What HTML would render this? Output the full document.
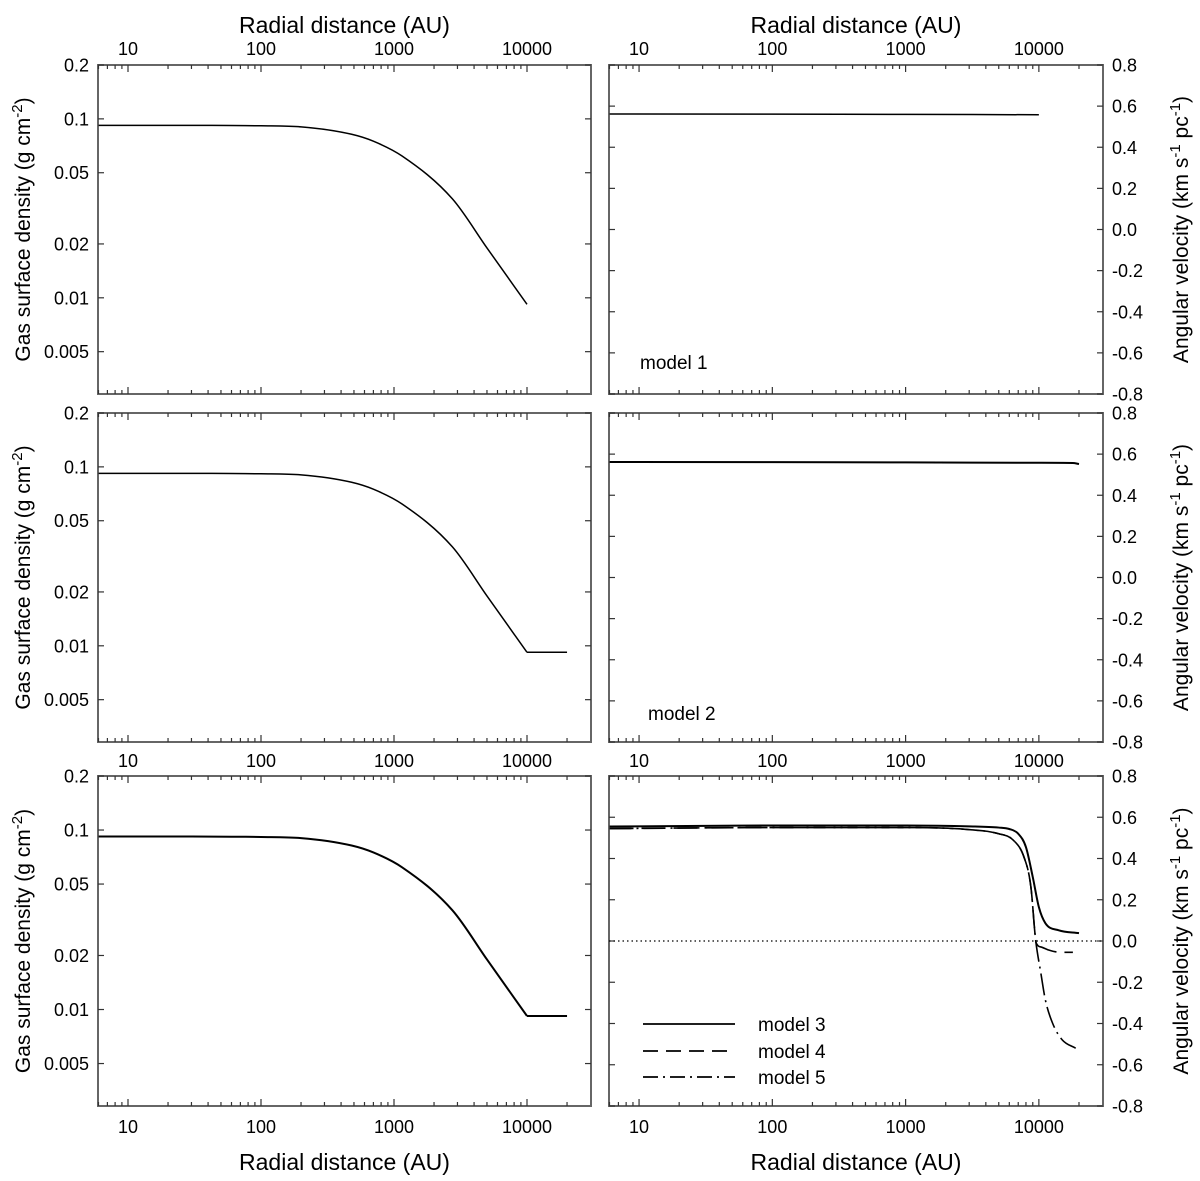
<!DOCTYPE html>
<html><head><meta charset="utf-8"><style>
html,body{margin:0;padding:0;background:#fff}
svg text{font-family:"Liberation Sans",Arial,sans-serif;fill:#000}
</style></head><body>
<svg id="fig" width="1200" height="1176" viewBox="0 0 1200 1176" xmlns="http://www.w3.org/2000/svg"></svg>
<script>
// ---- data ----
const densR = [6, 30, 60, 100, 200, 480, 700, 1150, 2750, 5000, 10000];
const densV = [0.092, 0.092, 0.0918, 0.0915, 0.0902, 0.082, 0.075, 0.062, 0.0357, 0.019, 0.0092];
const densTailR = [10000, 20000];
const densTailV = [0.0092, 0.0092];
const m1R = [6, 100, 1000, 10000];
const m1V = [0.562, 0.561, 0.56, 0.558];
const m2R = [6, 100, 1000, 10000, 18000, 20000];
const m2V = [0.562, 0.561, 0.56, 0.558, 0.557, 0.552];
const m3R = [6, 100, 1000, 3000, 5000, 6000, 7000, 8000, 9000, 10000, 11200, 14100, 20000];
const m3V = [0.555, 0.56, 0.56, 0.556, 0.55, 0.543, 0.52, 0.455, 0.31, 0.164, 0.086, 0.052, 0.038];
const m4R = [6, 100, 1000, 3000, 5000, 6400, 7730, 8720, 9340, 9500, 10500, 12000, 14000, 18000];
const m4V = [0.545, 0.55, 0.55, 0.54, 0.52, 0.49, 0.407, 0.26, 0.038, -0.006, -0.03, -0.045, -0.054, -0.055];
const m5R = [6, 100, 1000, 3000, 5000, 6400, 7730, 8720, 9340, 9500, 10350, 11200, 12700, 15000, 18900];
const m5V = [0.545, 0.55, 0.55, 0.54, 0.52, 0.49, 0.407, 0.26, 0.038, -0.006, -0.156, -0.287, -0.4, -0.48, -0.52];
const xTicks = [10, 100, 1000, 10000];
const xTickLabels = ["10", "100", "1000", "10000"];
const dTicks = [0.2, 0.1, 0.05, 0.02, 0.01, 0.005];
const dTickLabels = ["0.2", "0.1", "0.05", "0.02", "0.01", "0.005"];
const vTicks = [0.8, 0.6, 0.4, 0.2, 0, -0.2, -0.4, -0.6, -0.8];
const vTickLabels = ["0.8", "0.6", "0.4", "0.2", "0.0", "-0.2", "-0.4", "-0.6", "-0.8"];

const NS = "http://www.w3.org/2000/svg";
const svg = document.getElementById("fig");
function mk(tag, attrs, parent) {
  const e = document.createElementNS(NS, tag);
  for (const k in attrs) e.setAttribute(k, attrs[k]);
  (parent || svg).appendChild(e);
  return e;
}
const AX = "#666";
const cols = [{x0: 98, x1: 591}, {x0: 609, x1: 1103}];
const rows = [{y0: 65, y1: 394}, {y0: 413, y1: 742}, {y0: 776, y1: 1106}];
const LX0 = Math.log10(10) - 30 / 133;
const LX1 = LX0 + 493 / 133;
function xs(c, r) { return c.x0 + (Math.log10(r) - LX0) / (LX1 - LX0) * (c.x1 - c.x0); }
const LD0 = Math.log10(0.0029), LD1 = Math.log10(0.2);
function yd(p, v) { return p.y1 - (Math.log10(v) - LD0) / (LD1 - LD0) * (p.y1 - p.y0); }
function yv(p, v) { return p.y1 - (v + 0.8) / 1.6 * (p.y1 - p.y0); }

function monoPath(pts) {
  const n = pts.length;
  const xsA = pts.map(p => p[0]), ysA = pts.map(p => p[1]);
  const d = [], m = new Array(n);
  for (let i = 0; i < n - 1; i++) d.push((ysA[i + 1] - ysA[i]) / (xsA[i + 1] - xsA[i]));
  m[0] = d[0]; m[n - 1] = d[n - 2];
  for (let i = 1; i < n - 1; i++) m[i] = (d[i - 1] * d[i] <= 0) ? 0 : (d[i - 1] + d[i]) / 2;
  for (let i = 0; i < n - 1; i++) {
    if (d[i] === 0) { m[i] = 0; m[i + 1] = 0; continue; }
    const a = m[i] / d[i], b = m[i + 1] / d[i], s = a * a + b * b;
    if (s > 9) { const t = 3 / Math.sqrt(s); m[i] = t * a * d[i]; m[i + 1] = t * b * d[i]; }
  }
  let out = "M" + xsA[0].toFixed(2) + "," + ysA[0].toFixed(2);
  for (let i = 0; i < n - 1; i++) {
    const h = xsA[i + 1] - xsA[i];
    out += " C" + (xsA[i] + h / 3).toFixed(2) + "," + (ysA[i] + m[i] * h / 3).toFixed(2) + " " +
      (xsA[i + 1] - h / 3).toFixed(2) + "," + (ysA[i + 1] - m[i + 1] * h / 3).toFixed(2) + " " +
      xsA[i + 1].toFixed(2) + "," + ysA[i + 1].toFixed(2);
  }
  return out;
}
function text(str, x, y, size, anchor, parent) {
  const t = mk("text", {x: x, y: y, "font-size": size, "text-anchor": anchor || "middle"}, parent);
  t.textContent = str;
  return t;
}

function panel(ci, ri, kind) {
  const c = cols[ci], p = rows[ri];
  const g = mk("g", {});
  
  
  const fr = mk("rect", {x: c.x0, y: p.y0, width: c.x1 - c.x0, height: p.y1 - p.y0, fill: "none", stroke: AX, "stroke-width": 2}, g);
  
  
  for (let dec = 0; dec <= 4; dec++) {
    for (let m = 1; m <= 9; m++) {
      const r = m * Math.pow(10, dec);
      const lr = Math.log10(r);
      if (lr < LX0 || lr > LX1 - 0.005) continue;
      const x = xs(c, r), len = m === 1 ? 7 : 4;
      mk("line", {x1: x, y1: p.y1, x2: x, y2: p.y1 - len, stroke: "#333", "stroke-width": 1.2}, g);
      mk("line", {x1: x, y1: p.y0, x2: x, y2: p.y0 + len, stroke: "#333", "stroke-width": 1.2}, g);
    }
  }
  const ticks = kind === "dens" ? dTicks : vTicks;
  const labels = kind === "dens" ? dTickLabels : vTickLabels;
  ticks.forEach((v, i) => {
    const y = kind === "dens" ? yd(p, v) : yv(p, v);
    mk("line", {x1: c.x0, y1: y, x2: c.x0 + 6, y2: y, stroke: "#333", "stroke-width": 1.2}, g);
    mk("line", {x1: c.x1, y1: y, x2: c.x1 - 6, y2: y, stroke: "#333", "stroke-width": 1.2}, g);
    const t = kind === "dens" ? text(labels[i], c.x0 - 9, y + 6.5, 18, "end", g) : text(labels[i], c.x1 + 9, y + 6.5, 18, "start", g);
    
    
  });
  return {g, c, p};
}

function xLabels(ci, y) {
  const c = cols[ci];
  xTicks.forEach((r, i) => {
    const t = text(xTickLabels[i], xs(c, r), y, 18, "middle");
    
    
  });
}
function line(P, R, V, kind, dash, name, width) {
  const pts = R.map((r, i) => [xs(P.c, r), kind === "dens" ? yd(P.p, V[i]) : yv(P.p, V[i])]);
  const e = mk("path", {d: monoPath(pts), fill: "none", stroke: "#000", "stroke-width": width || 1.5}, P.g);
  if (dash) e.setAttribute("stroke-dasharray", dash);
  
  
}

for (let ri = 0; ri < 3; ri++) {
  const L = panel(0, ri, "dens");
  line(L, densR, densV, "dens", null, "density-curve", ri === 2 ? 2 : 1.5);
  if (ri > 0) line(L, densTailR, densTailV, "dens", null, "density-floor", ri === 2 ? 2 : 1.5);
  const R = panel(1, ri, "vel");
  if (ri === 0) line(R, m1R, m1V, "vel", null, "model-1-line");
  if (ri === 1) line(R, m2R, m2V, "vel", null, "model-2-line", 2);
  if (ri === 2) {
    const z = mk("line", {x1: R.c.x0, y1: yv(R.p, 0), x2: R.c.x1, y2: yv(R.p, 0), stroke: "#000", "stroke-width": 1.2, "stroke-dasharray": "1.5 3"}, R.g);
    
    
    line(R, m3R, m3V, "vel", null, "model-3-line", 2);
    line(R, m4R, m4V, "vel", "24 8", "model-4-line", 1.6);
    line(R, m5R, m5V, "vel", "22 5 2 5", "model-5-line", 1.6);
  }
  const cy = (rows[ri].y0 + rows[ri].y1) / 2;
  const lt = mk("text", {x: 30, y: cy, "font-size": 21, "text-anchor": "middle", transform: "rotate(-90 30 " + cy + ")"});
  lt.innerHTML = 'Gas surface density (g cm<tspan dy="-8" font-size="15">-2</tspan><tspan dy="8">)</tspan>';
  
  
  const rt = mk("text", {x: 1188, y: cy, "font-size": 21, "text-anchor": "middle", transform: "rotate(-90 1188 " + cy + ")"});
  rt.innerHTML = 'Angular velocity (km s<tspan dy="-8" font-size="15">-1</tspan><tspan dy="8"> pc</tspan><tspan dy="-8" font-size="15">-1</tspan><tspan dy="8">)</tspan>';
  
  
}
xLabels(0, 55); xLabels(1, 55);
xLabels(0, 767); xLabels(1, 767);
xLabels(0, 1133); xLabels(1, 1133);
[[344.5, 33, 'top-x-axis-title-left'], [856, 33, 'top-x-axis-title-right'], [344.5, 1170, 'bottom-x-axis-title-left'], [856, 1170, 'bottom-x-axis-title-right']].forEach(a => {
  const t = text("Radial distance (AU)", a[0], a[1], 23, "middle");
  
  
});
const t1 = text("model 1", 640, 369, 19, "start");


const t2 = text("model 2", 648, 720, 19, "start");


const legNames = ["model 3", "model 4", "model 5"];
const legDash = [null, "15 8", "15 5 2 5"];
const legY = [1024, 1051, 1077];
legNames.forEach((n, i) => {
  const l = mk("line", {x1: 643, y1: legY[i], x2: 735, y2: legY[i], stroke: "#000", "stroke-width": 1.8});
  if (legDash[i]) l.setAttribute("stroke-dasharray", legDash[i]);
  
  
  const t = text(n, 758, legY[i] + 7, 19, "start");
  
  
});
</script>
</body></html>
